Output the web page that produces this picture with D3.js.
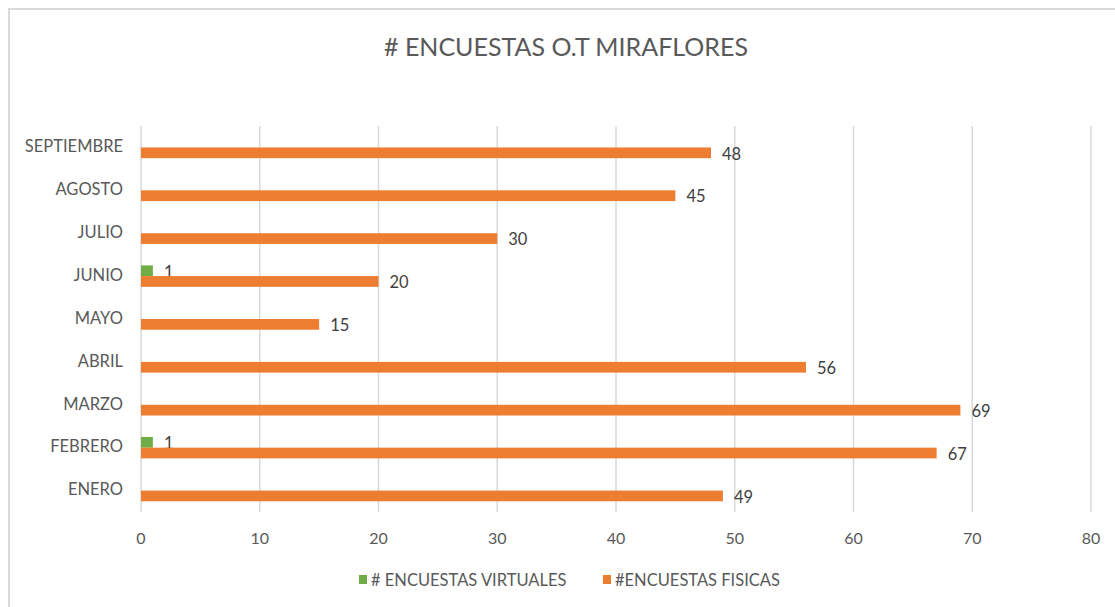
<!DOCTYPE html>
<html>
<head>
<meta charset="utf-8">
<title># ENCUESTAS O.T MIRAFLORES</title>
<script src="https://d3js.org/d3.v7.min.js"></script>
<style>
body{
	margin: 0;
	background: #fff;
	font-family: Lato, "Open Sans", sans-serif;
}
</style>
</head>
<body>
<div id="chart"></div>
<script>

// data
var months = ["ENERO", "FEBRERO", "MARZO", "ABRIL", "MAYO", "JUNIO", "JULIO", "AGOSTO", "SEPTIEMBRE"];
var virtuales = [null, 1, null, null, null, 1, null, null, null];
var fisicas = [49, 67, 69, 56, 15, 20, 30, 45, 48];
var seriesNames = ["# ENCUESTAS VIRTUALES", "#ENCUESTAS FISICAS"];
var xTicks = [0, 10, 20, 30, 40, 50, 60, 70, 80];

var colors = ["#70AD47", "#ED7D31"];

var width = 1115, height = 607;
var margin = {left: 141, right: 24, top: 126, bottom: 95};

var svg = d3.select("#chart")
	.append("svg")
	.attr("width", width)
	.attr("height", height);

// chart frame
svg.append("rect")
	.attr("x", 9).attr("y", 9)
	.attr("width", width + 20).attr("height", height + 20)
	.attr("fill", "none")
	.attr("stroke", "#d9d9d9")
	.attr("stroke-width", 2);

svg.append("text")
	.attr("x", 566)
	.attr("y", 47)
	.attr("dy", "0.35em")
	.attr("text-anchor", "middle")
	.attr("fill", "#595959")
	.attr("font-size", 25)
	.text("# ENCUESTAS O.T MIRAFLORES");

var x = d3.scaleLinear()
	.domain([0, 80])
	.range([margin.left, 1091]);

// top to bottom: SEPTIEMBRE first
var y = d3.scaleBand()
	.domain(months.slice().reverse())
	.range([margin.top, 512])
	.paddingInner(0.5)
	.paddingOuter(0.25);

var sub = d3.scaleBand()
	.domain([0, 1])
	.range([0, y.bandwidth()]);

// gridlines
svg.append("g")
	.selectAll("line")
	.data(xTicks)
	.join("line")
	.attr("x1", d => x(d)).attr("x2", d => x(d))
	.attr("y1", margin.top).attr("y2", 512)
	.attr("stroke", "#d9d9d9")
	.attr("stroke-width", 1.5);

// x axis labels
svg.append("g")
	.selectAll("text")
	.data(xTicks)
	.join("text")
	.attr("x", d => x(d))
	.attr("y", 538)
	.attr("dy", "0.35em")
	.attr("text-anchor", "middle")
	.attr("fill", "#595959")
	.attr("font-size", 16)
	.text(d => d);

// category labels
svg.append("g")
	.selectAll("text")
	.data(months)
	.join("text")
	.attr("x", 123)
	.attr("y", d => y(d) + y.bandwidth() / 2 - 1)
	.attr("dy", "0.35em")
	.attr("text-anchor", "end")
	.attr("fill", "#595959")
	.attr("font-size", 16.5)
	.text(d => d);

var series = [virtuales, fisicas];

series.forEach(function(vals, s) {
	var pts = months.map((m, i) => ({m: m, v: vals[i]})).filter(d => d.v != null);
	var g = svg.append("g");
	g.selectAll("rect")
		.data(pts)
		.join("rect")
		.attr("x", x(0))
		.attr("y", d => y(d.m) + sub(s))
		.attr("width", d => x(d.v) - x(0))
		.attr("height", sub.bandwidth())
		.attr("fill", colors[s]);
	g.selectAll("text")
		.data(pts)
		.join("text")
		.attr("x", d => x(d.v) + 11)
		.attr("y", d => y(d.m) + sub(s) + sub.bandwidth() / 2 + 1)
		.attr("dy", "0.35em")
		.attr("fill", "#404040")
		.attr("font-size", 16.5)
		.text(d => d.v);
});

// legend
var legendX = [359, 603];
var legend = svg.append("g")
	.selectAll("g")
	.data(seriesNames)
	.join("g")
	.attr("transform", (d, i) => "translate(" + legendX[i] + ",580)");
legend.append("rect")
	.attr("x", 0).attr("y", -5)
	.attr("width", 8).attr("height", 9)
	.attr("fill", (d, i) => colors[i]);
legend.append("text")
	.attr("x", 12)
	.attr("dy", "0.35em")
	.attr("fill", "#595959")
	.attr("font-size", 16.5)
	.text(d => d);

</script>
</body>
</html>
